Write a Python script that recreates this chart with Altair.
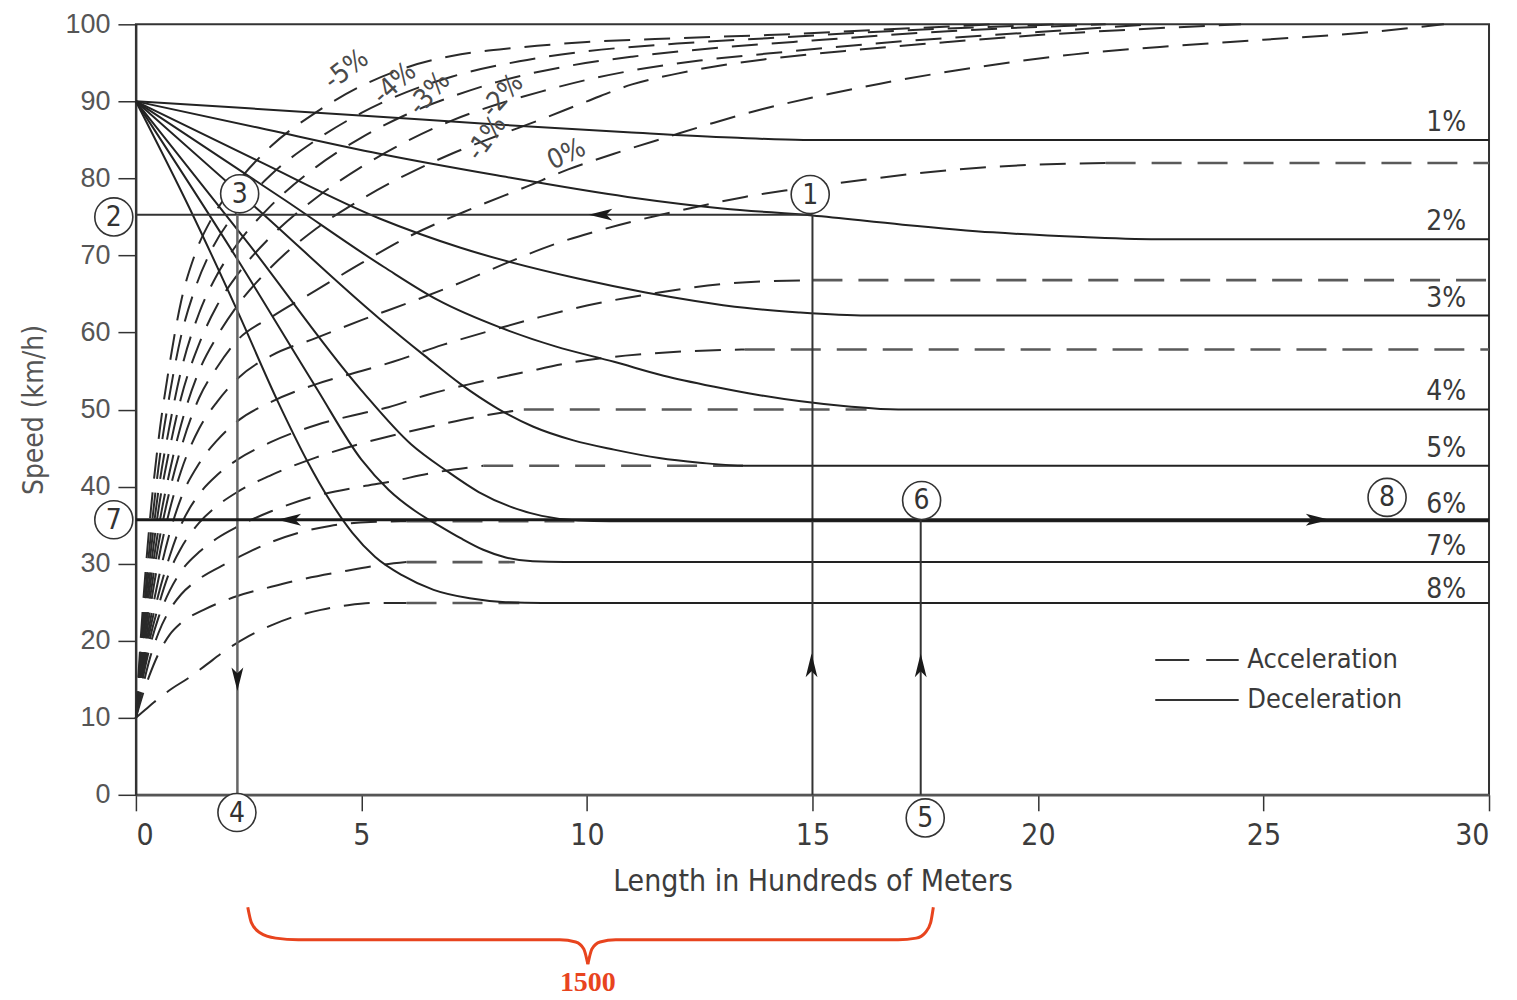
import altair as alt
import pandas as pd

# ---------------- data ----------------
# Acceleration curves (start at 10 km/h), grade -> (length [100 m], speed [km/h])
acc_m5 = [(0,10),(0.15,24),(0.3,35),(0.5,46),(0.75,56),(1.0,64),(1.3,70),(1.7,75),(2.25,79.5),(3.0,84.2),(4.0,88.6),(5.0,92),(6.0,94.4),(7.0,95.9),(8.5,97),(10,97.7),(12,98.2),(14,98.6),(16.5,99.3),(19,100)]
acc_m4 = [(0,10),(0.15,22),(0.3,32),(0.5,42.5),(0.75,52),(1.0,59.5),(1.3,65.5),(1.7,71),(2.25,75.8),(3.0,80.5),(4.0,85),(5.0,88.5),(6.0,91.2),(7.0,93.2),(8.5,95.2),(10,96.5),(12,97.5),(14,98.2),(17,99.2),(20.5,100)]
acc_m3 = [(0,10),(0.15,21),(0.3,30),(0.5,39.5),(0.75,48),(1.0,55),(1.4,62.5),(1.8,67.5),(2.25,71.5),(3.0,76.5),(4.0,81.5),(5.0,85.3),(6.0,88.3),(7.0,90.6),(8.0,92.5),(9.5,94.5),(11,95.8),(13,97),(15,97.9),(18,99.1),(21.5,100)]
acc_m2 = [(0,10),(0.15,20),(0.3,28),(0.5,37),(0.75,45),(1.0,51.5),(1.4,58.5),(1.8,63.5),(2.25,67.5),(3.0,72.5),(4.0,77.5),(5.0,81.5),(6.0,84.8),(7.0,87.5),(8.0,89.6),(9.0,91.3),(10.0,92.8),(11.0,94),(12.5,95.3),(14,96.2),(17,97.8),(20,99),(22.5,100)]
acc_m1 = [(0,10),(0.15,19),(0.3,26.5),(0.5,34.5),(0.75,42),(1.0,48),(1.4,55),(1.8,59.5),(2.25,63.5),(3.0,68.5),(4.0,73.5),(5.0,77.3),(6.0,80.5),(7.0,83.2),(8.0,85.5),(9.0,87.7),(10.0,90),(11.0,92.2),(12.0,93.6),(13,94.7),(14,95.5),(16,96.7),(18,97.7),(20,98.6),(22,99.3),(24.5,100)]
acc_0 = [(0,10),(0.15,18),(0.3,25),(0.5,32.5),(0.75,39.5),(1.0,45),(1.4,51.5),(1.8,55.5),(2.25,59),(3.0,62),(4.0,65.5),(5.0,69),(6.0,72.3),(7.5,76.2),(8.65,78.9),(9.6,81.2),(10.6,83.2),(11.8,85.4),(12.8,87.2),(13.9,89),(15,90.5),(16.5,92.3),(18.5,94.3),(20.8,96.1),(23,97.2),(25,98),(27.2,98.9),(29,100)]
acc_p1 = [(0,10),(0.15,17),(0.3,23.5),(0.5,30.5),(0.75,37),(1.0,42),(1.4,47.5),(1.8,51),(2.25,54),(3.0,57),(4.0,59.3),(5.0,61.6),(6.2,64.2),(7.25,66.6),(8.25,69.1),(9.3,71.5),(10.3,73.3),(11.5,75.1),(12.5,76.4),(13.5,77.6),(14.6,78.6),(16.1,79.8),(18.1,81.1),(20,81.8),(21.5,82)]
acc_p2 = [(0,10),(0.15,16.5),(0.3,22),(0.5,28),(0.75,34),(1.0,38.5),(1.4,43),(1.8,46),(2.25,48.5),(3.0,51),(4.0,53.3),(5.0,55),(5.7,56.2),(6.8,58.4),(7.9,60.3),(8.95,62),(10,63.5),(11.5,65.1),(13,66.3),(15,66.8)]
acc_p3 = [(0,10),(0.15,16),(0.3,21),(0.5,26),(0.75,31),(1.0,35),(1.4,39),(1.8,41.5),(2.25,43.5),(3.0,45.8),(4.0,48),(5.0,49.5),(5.6,50.3),(6.45,51.9),(7.55,53.5),(8.65,54.9),(9.75,56.2),(10.85,57),(12,57.5),(13.5,57.8)]
acc_p4 = [(0,10),(0.15,15.5),(0.3,20),(0.5,24.5),(0.75,29),(1.0,32),(1.4,35.3),(1.8,37.5),(2.25,39.3),(3.0,41.5),(4.0,43.8),(5.0,45.6),(5.6,46.5),(6.85,48.2),(8.0,49.5),(8.6,50)]
acc_p5 = [(0,10),(0.15,15),(0.3,19),(0.5,23),(0.75,26.5),(1.0,29),(1.4,31.5),(1.8,33.3),(2.25,34.8),(3.0,36.8),(4.0,38.8),(5.0,40),(5.6,40.6),(6.6,41.8),(7.7,42.7)]
acc_p6 = [(0,10),(0.15,14),(0.3,17.5),(0.5,21),(0.75,24),(1.0,26),(1.4,28),(2.0,30),(2.5,31.5),(3.0,32.8),(3.6,34),(4.3,34.9),(5.2,35.4),(6,35.5)]
acc_p7 = [(0,10),(0.15,13),(0.3,15.5),(0.5,18.3),(0.75,20.8),(1.0,22.3),(1.5,24),(2.25,25.8),(3.0,27),(3.55,27.8),(4.6,29),(5.4,29.8),(6,30.2)]
acc_p8 = [(0,10),(0.2,11),(0.4,12),(0.8,13.8),(1.15,15.1),(1.5,16.6),(2.0,18.8),(2.5,20.6),(3.0,22),(3.5,23.1),(4.1,24),(4.7,24.6),(5.3,24.9),(6,24.9)]

# flat (crawl-speed) continuations of the acceleration curves: grade, speed, from, to
ext_grade = ["1%", "2%", "3%", "4%", "5%", "6%", "7%", "8%"]
ext_speed = [82, 66.8, 57.8, 50, 42.7, 35.5, 30.2, 24.9]
ext_from = [21.5, 15, 13.5, 8.6, 7.7, 6, 6, 6]
ext_to = [30, 30, 30, 16.2, 13.5, 10, 8.4, 8.5]

# Deceleration curves (start at 90 km/h)
dec_p1 = [(0,90),(2.5,89.1),(5.4,88),(8,87),(10.9,86),(13.2,85.3),(14.8,85),(30,85)]
dec_p2 = [(0,90),(2.7,86.6),(5.4,83.2),(8,80.4),(10.9,77.6),(13,76.1),(15,75.2),(17,74),(19,73),(21,72.4),(22.8,72.1),(30,72.1)]
dec_p3 = [(0,90),(2.7,82.3),(5.4,74.8),(7.2,71),(9.8,67),(11.3,65.2),(12.4,64.1),(13.5,63.2),(14.7,62.6),(16.2,62.2),(30,62.2)]
dec_p4 = [(0,90),(3.3,77.2),(5.5,68.5),(6.7,64.2),(8.1,60.6),(9.3,58.2),(10.6,56.2),(11.7,54.4),(12.8,53),(13.8,51.9),(14.7,51.1),(15.8,50.4),(16.9,50),(30,50)]
dec_p5 = [(0,90),(2.7,76),(5.4,61.8),(6.4,57),(7.2,53.3),(8,50.2),(8.8,47.8),(9.7,46),(10.6,44.8),(11.6,43.7),(12.5,43.1),(13.5,42.7),(30,42.7)]
dec_p6 = [(0,90),(2.5,71.5),(5.0,52.5),(6.1,45.5),(6.9,42),(7.6,39.3),(8.3,37.4),(9.0,36.2),(9.8,35.6),(10.5,35.5),(30,35.5)]
dec_p7 = [(0,90),(2.25,69.5),(4.0,52.8),(5.0,43.5),(5.6,39.6),(6.2,36.8),(6.7,35),(7.2,33.3),(7.7,31.8),(8.2,30.8),(8.8,30.3),(9.5,30.2),(30,30.2)]
dec_p8 = [(0,90),(1.2,76),(2.25,62.8),(3.15,51),(3.8,43.3),(4.3,38.2),(4.8,34),(5.3,30.9),(5.9,28.5),(6.6,26.6),(7.4,25.5),(8.2,25),(9,24.9),(30,24.9)]

# right-hand grade labels
dec_label = ["1%", "2%", "3%", "4%", "5%", "6%", "7%", "8%"]
dec_label_y = [87.2, 74.4, 64.3, 52.3, 44.9, 37.6, 32.1, 26.6]

# rotated downgrade labels
acc_label = ["-5%", "-4%", "-3%", "-2%", "-1%", "0%"]
acc_label_x = [4.67, 5.74, 6.51, 8.13, 7.78, 9.55]
acc_label_y = [94.1, 92.3, 91.0, 90.7, 85.2, 83.1]
acc_label_angle = [323, 318, 312, 312, 306, 335]

# worked-example construction lines
guide_x = [0, 15, 2.25, 0, 17.4]
guide_x2 = [15, 15, 2.25, 30, 17.4]
guide_y = [75.3, 75.3, 75.3, 35.7, 35.7]
guide_y2 = [75.3, 0, 0, 35.7, 0]
guide_w = [2, 2, 2.5, 3, 2]
guide_c = ["#333333", "#333333", "#666666", "#1a1a1a", "#333333"]

arrow_x = [10.3, 2.25, 14.98, 17.4, 3.4, 26.2]
arrow_y = [75.3, 15.0, 16.8, 16.8, 35.7, 35.7]
arrow_dir = ["left", "down", "up", "up", "left", "right"]

marker_num = ["1", "2", "3", "4", "5", "6", "7", "8"]
marker_x = [14.95, -0.49, 2.3, 2.24, 17.5, 17.42, -0.49, 27.74]
marker_y = [77.9, 75.0, 78.0, -2.3, -3.0, 38.2, 35.7, 38.6]

legend_text = ["Acceleration", "Deceleration"]
legend_y = [17.5, 12.3]

brace_left = [(2.48,-14.6),(2.56,-16.6),(2.75,-17.9),(3.1,-18.6),(3.6,-18.8),(9.4,-18.8),(9.75,-19.1),(9.93,-20.0),(10.02,-22.0)]
brace_right = [(10.02,-22.0),(10.11,-20.0),(10.29,-19.1),(10.64,-18.8),(16.9,-18.8),(17.3,-18.6),(17.5,-17.9),(17.62,-16.6),(17.68,-14.6)]
brace_label = "1500"

# ---------------- build tables ----------------
COND = "Liberation Sans Narrow, DejaVu Sans Condensed, Arial Narrow, sans-serif"
REG = "Liberation Sans, Arial, sans-serif"


def curves(named):
    rows = []
    for name, pts in named:
        for i, (x, y) in enumerate(pts):
            rows.append({"x": x, "y": y, "curve": name, "order": i})
    return pd.DataFrame(rows)


acc_df = curves([("-5%", acc_m5), ("-4%", acc_m4), ("-3%", acc_m3), ("-2%", acc_m2),
                 ("-1%", acc_m1), ("0%", acc_0), ("1%", acc_p1), ("2%", acc_p2),
                 ("3%", acc_p3), ("4%", acc_p4), ("5%", acc_p5), ("6%", acc_p6),
                 ("7%", acc_p7), ("8%", acc_p8)])
dec_df = curves([("1%", dec_p1), ("2%", dec_p2), ("3%", dec_p3), ("4%", dec_p4),
                 ("5%", dec_p5), ("6%", dec_p6), ("7%", dec_p7), ("8%", dec_p8)])
ext_df = pd.DataFrame({"curve": ext_grade, "y": ext_speed, "x": ext_from, "x2": ext_to})
guide_df = pd.DataFrame({"x": guide_x, "x2": guide_x2, "y": guide_y, "y2": guide_y2,
                         "w": guide_w, "c": guide_c})
paths = {
    "left": "M-1,0L1,-0.5L0.5,0L1,0.5Z",
    "right": "M1,0L-1,-0.5L-0.5,0L-1,0.5Z",
    "down": "M0,1L-0.5,-1L0,-0.5L0.5,-1Z",
    "up": "M0,-1L-0.5,1L0,0.5L0.5,1Z",
}
arrow_df = pd.DataFrame({"x": arrow_x, "y": arrow_y, "shape": [paths[d] for d in arrow_dir]})
marker_df = pd.DataFrame({"x": marker_x, "y": marker_y, "label": marker_num})
declab_df = pd.DataFrame({"x": [29.05] * len(dec_label), "y": dec_label_y, "label": dec_label})
acclab_df = pd.DataFrame({"x": acc_label_x, "y": acc_label_y, "label": acc_label, "angle": acc_label_angle})
leg_line_df = pd.DataFrame({"x": [22.6, 22.6], "x2": [24.45, 24.45], "y": legend_y, "kind": ["acc", "dec"]})
leg_text_df = pd.DataFrame({"x": [24.64, 24.64], "y": legend_y, "label": legend_text})
brace_df = curves([("L", brace_left), ("R", brace_right)])
brace_text_df = pd.DataFrame({"x": [10.02], "y": [-24.4], "label": [brace_label]})

XS = alt.Scale(domain=[0, 30], nice=False, zero=False)
YS = alt.Scale(domain=[0, 100], nice=False, zero=False)

x_axis = alt.Axis(values=[0, 5, 10, 15, 20, 25, 30], labelFont=COND, labelFontSize=30,
                  labelColor="#3c3c3c", tickSize=16, tickColor="#333", tickWidth=1.5,
                  domainColor="#555", domainWidth=2.5, labelPadding=10, grid=False,
                  titleFont=COND, titleFontSize=30, titleFontWeight="normal",
                  titleColor="#3c3c3c", titlePadding=16)
y_axis = alt.Axis(values=list(range(0, 101, 10)), labelFont=REG, labelFontSize=27,
                  labelColor="#555", tickSize=18, tickColor="#333", tickWidth=1.5,
                  domainColor="#333", domainWidth=2, labelPadding=8, grid=False,
                  titleFont=COND, titleFontSize=28, titleFontWeight="normal",
                  titleColor="#555", titlePadding=16)

X_TITLE = "Length in Hundreds of Meters"
Y_TITLE = "Speed (km/h)"


def X(field="x"):
    return alt.X(f"{field}:Q", scale=XS, axis=x_axis, title=X_TITLE)


def Y(field="y"):
    return alt.Y(f"{field}:Q", scale=YS, axis=y_axis, title=Y_TITLE)


acc_layer = alt.Chart(acc_df).mark_line(
    strokeDash=[26, 14], color="#2a2a2a", strokeWidth=2, interpolate="monotone"
).encode(x=X(), y=Y(), detail="curve:N", order="order:Q")

ext_layer = alt.Chart(ext_df).mark_rule(strokeDash=[30, 16], color="#5a5a5a", strokeWidth=2.6).encode(
    x=X(), x2="x2:Q", y=Y())

dec_layer = alt.Chart(dec_df).mark_line(color="#222", strokeWidth=2, interpolate="monotone").encode(
    x=X(), y=Y(), detail="curve:N", order="order:Q")

guide_layer = alt.Chart(guide_df).mark_rule().encode(
    x=X(), x2="x2:Q", y=Y(), y2="y2:Q",
    strokeWidth=alt.StrokeWidth("w:Q", scale=None),
    color=alt.Color("c:N", scale=None))

arrow_layer = alt.Chart(arrow_df).mark_point(filled=True, color="#1a1a1a", size=560, opacity=1).encode(
    x=X(), y=Y(), shape=alt.Shape("shape:N", scale=None))

marker_circle = alt.Chart(marker_df).mark_point(
    shape="circle", filled=True, fill="white", stroke="#333", strokeWidth=1.6, size=1450, opacity=1
).encode(x=X(), y=Y())
marker_text = alt.Chart(marker_df).mark_text(
    font=COND, fontSize=28, color="#333", baseline="middle", align="center", dy=1
).encode(x=X(), y=Y(), text="label:N")

declab_layer = alt.Chart(declab_df).mark_text(
    font=COND, fontSize=28, color="#3a3a3a", baseline="middle", align="center"
).encode(x=X(), y=Y(), text="label:N")

acclab_layer = alt.Chart(acclab_df).mark_text(
    font=COND, fontSize=27, color="#4a4a4a", baseline="middle", align="center"
).encode(x=X(), y=Y(), text="label:N", angle=alt.Angle("angle:Q", scale=None))

leg_acc = alt.Chart(leg_line_df[leg_line_df.kind == "acc"]).mark_rule(
    strokeDash=[34, 17], color="#333", strokeWidth=2).encode(x=X(), x2="x2:Q", y=Y())
leg_dec = alt.Chart(leg_line_df[leg_line_df.kind == "dec"]).mark_rule(
    color="#333", strokeWidth=2).encode(x=X(), x2="x2:Q", y=Y())
leg_text = alt.Chart(leg_text_df).mark_text(
    font=COND, fontSize=27, color="#3a3a3a", baseline="middle", align="left"
).encode(x=X(), y=Y(), text="label:N")

brace_layer = alt.Chart(brace_df).mark_line(color="#e8441e", strokeWidth=3, interpolate="monotone").encode(
    x=X(), y=Y(), detail="curve:N", order="order:Q")
brace_text = alt.Chart(brace_text_df).mark_text(
    font="Liberation Serif, Times New Roman, serif", fontSize=28, fontWeight="bold",
    color="#e8441e", baseline="middle", align="center"
).encode(x=X(), y=Y(), text="label:N")

chart = alt.layer(
    acc_layer, ext_layer, dec_layer, guide_layer, arrow_layer,
    marker_circle, marker_text, declab_layer, acclab_layer,
    leg_acc, leg_dec, leg_text, brace_layer, brace_text
).properties(
    width=1354, height=771,
    autosize=alt.AutoSizeParams(type="none"),
    padding={"left": 128, "top": 16, "right": 20, "bottom": 204},
    background="white",
).configure_view(stroke="#333", strokeWidth=2)

chart.save("out.html", embed_options={"renderer": "svg", "actions": False})
